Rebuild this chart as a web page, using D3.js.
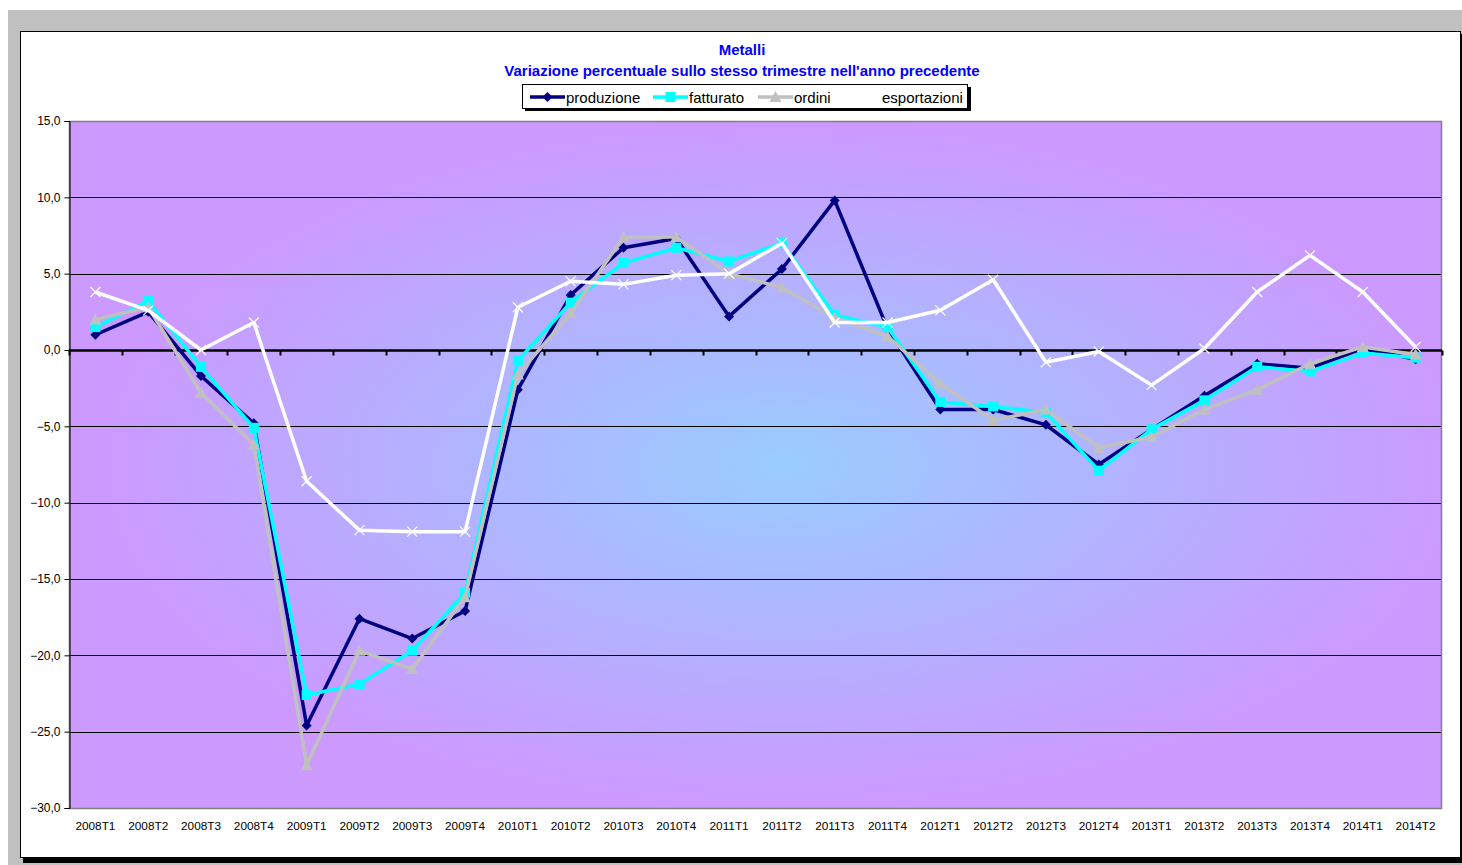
<!DOCTYPE html>
<html>
<head>
<meta charset="utf-8">
<script src="https://cdn.jsdelivr.net/npm/d3@7"></script>
<style>
  html, body { margin: 0; padding: 0; background: #ffffff; }
  svg { display: block; font-family: "Liberation Sans", Arial, sans-serif; }
</style>
</head>
<body>
<svg id="chart" width="1462" height="865"></svg>
<script>
const categories = ["2008T1","2008T2","2008T3","2008T4","2009T1","2009T2","2009T3","2009T4",
  "2010T1","2010T2","2010T3","2010T4","2011T1","2011T2","2011T3","2011T4",
  "2012T1","2012T2","2012T3","2012T4","2013T1","2013T2","2013T3","2013T4","2014T1","2014T2"];
const produzione = [1.0, 2.5, -1.7, -4.8, -24.6, -17.6, -18.9, -17.1,
  -2.6, 3.6, 6.7, 7.3, 2.2, 5.3, 9.8, 1.4,
  -3.9, -3.9, -4.9, -7.5, -5.2, -3.0, -0.9, -1.2, 0.1, -0.6];
const fatturato = [1.5, 3.2, -1.1, -5.1, -22.6, -21.9, -19.7, -15.9,
  -0.7, 3.1, 5.7, 6.7, 5.8, 7.0, 2.3, 1.5,
  -3.4, -3.7, -4.1, -7.9, -5.2, -3.3, -1.1, -1.4, -0.2, -0.5];
const ordini = [2.0, 2.8, -2.8, -6.2, -27.2, -19.7, -20.9, -16.2,
  -1.6, 2.4, 7.4, 7.4, 5.0, 4.1, 2.1, 0.9,
  -2.2, -4.6, -3.9, -6.4, -5.7, -3.9, -2.6, -0.9, 0.2, -0.3];
const esportazioni = [3.8, 2.6, 0.0, 1.8, -8.6, -11.8, -11.9, -11.9,
  2.8, 4.5, 4.3, 4.9, 5.0, 7.0, 1.8, 1.8,
  2.6, 4.6, -0.8, -0.1, -2.3, 0.1, 3.8, 6.2, 3.8, 0.2];
const yTicks = [15, 10, 5, 0, -5, -10, -15, -20, -25, -30];
const seriesNames = ["produzione", "fatturato", "ordini", "esportazioni"];
const titleLines = ["Metalli", "Variazione percentuale sullo stesso trimestre nell'anno precedente"];

const series = [
  {name: seriesNames[0], values: produzione, color: "#000080", marker: "diamond"},
  {name: seriesNames[1], values: fatturato, color: "#00FFFF", marker: "square"},
  {name: seriesNames[2], values: ordini, color: "#C0C0C0", marker: "triangle"},
  {name: seriesNames[3], values: esportazioni, color: "#FFFFFF", marker: "x"}
];

const svg = d3.select("#chart");
const W = 1462, H = 865;

// outer gray background
svg.append("rect").attr("x", 8).attr("y", 10).attr("width", W - 8).attr("height", H - 10).attr("fill", "#C0C0C0");
// chart area shadow + frame
svg.append("rect").attr("x", 23).attr("y", 34).attr("width", 1441).attr("height", 829).attr("fill", "#000");
svg.append("rect").attr("x", 20.5).attr("y", 31.5).attr("width", 1440).attr("height", 826)
  .attr("fill", "#fff").attr("stroke", "#000").attr("stroke-width", 1);

const plot = {left: 69, right: 1442, top: 121, bottom: 808};

const x = d3.scaleBand().domain(categories).range([plot.left, plot.right]).padding(0);
const y = d3.scaleLinear().domain([-30, 15]).range([plot.bottom, plot.top]);

// gradient
const defs = svg.append("defs");
const grad = defs.append("radialGradient").attr("id", "bg")
  .attr("cx", "0.52").attr("cy", "0.5").attr("r", "0.5").attr("fx", "0.52").attr("fy", "0.5");
grad.append("stop").attr("offset", "0%").attr("stop-color", "#99CCFF");
grad.append("stop").attr("offset", "100%").attr("stop-color", "#CC99FF");

svg.append("rect").attr("x", plot.left).attr("y", plot.top)
  .attr("width", plot.right - plot.left).attr("height", plot.bottom - plot.top)
  .attr("fill", "url(#bg)");

// gridlines
svg.append("g").selectAll("line").data(yTicks.filter(v => v !== 15 && v !== -30 && v !== 0)).join("line")
  .attr("x1", plot.left).attr("x2", plot.right)
  .attr("y1", d => Math.round(y(d)) + 0.5).attr("y2", d => Math.round(y(d)) + 0.5)
  .attr("stroke", "#000").attr("stroke-width", 1);

// plot border
svg.append("rect").attr("x", plot.left + 0.5).attr("y", plot.top + 0.5)
  .attr("width", plot.right - plot.left - 1).attr("height", plot.bottom - plot.top)
  .attr("fill", "none").attr("stroke", "#808080").attr("stroke-width", 1.5);

// Y axis
const yAxis = d3.axisLeft(y).tickValues(yTicks).tickSize(5).tickPadding(4)
  .tickFormat(d => d3.format(".1f")(d).replace(".", ","));
const gy = svg.append("g").attr("transform", `translate(${plot.left + 0.5},0)`).call(yAxis);
gy.select(".domain").attr("stroke", "#000");
gy.selectAll(".tick line").attr("stroke", "#000");
gy.selectAll("text").attr("font-size", 12).attr("fill", "#000")
  .attr("font-family", "'Liberation Sans', Arial, sans-serif");

// zero axis with ticks at category boundaries
const y0 = Math.round(y(0)) + 0.5;
svg.append("line").attr("x1", plot.left).attr("x2", plot.right).attr("y1", y0).attr("y2", y0)
  .attr("stroke", "#000").attr("stroke-width", 2.5);
const boundaries = categories.map(c => x(c)).concat([plot.right]);
svg.append("g").selectAll("line").data(boundaries).join("line")
  .attr("x1", d => Math.round(d) + 0.5).attr("x2", d => Math.round(d) + 0.5)
  .attr("y1", y0).attr("y2", y0 + 5).attr("stroke", "#000").attr("stroke-width", 2);

// X labels at bottom
const xAxis = d3.axisBottom(x).tickSize(0).tickPadding(14);
const gx = svg.append("g").attr("transform", `translate(0,${plot.bottom})`).call(xAxis);
gx.select(".domain").remove();
gx.selectAll("text").attr("font-size", 11.8).attr("fill", "#000")
  .attr("font-family", "'Liberation Sans', Arial, sans-serif");

// Lines
const cx = c => x(c) + x.bandwidth() / 2;
const line = d3.line().x((d, i) => cx(categories[i])).y(d => y(d));

function drawMarker(g, type, px, py, color) {
  if (type === "diamond") {
    g.append("path").attr("d", `M${px},${py-5}L${px+5},${py}L${px},${py+5}L${px-5},${py}Z`).attr("fill", color);
  } else if (type === "square") {
    g.append("rect").attr("x", px - 5).attr("y", py - 5).attr("width", 10).attr("height", 10).attr("fill", color);
  } else if (type === "triangle") {
    g.append("path").attr("d", `M${px},${py-6}L${px+6},${py+5}L${px-6},${py+5}Z`).attr("fill", color);
  } else if (type === "x") {
    g.append("path").attr("d", `M${px-5},${py-5}L${px+5},${py+5}M${px-5},${py+5}L${px+5},${py-5}`)
      .attr("stroke", color).attr("stroke-width", 1.2).attr("fill", "none");
  }
}

series.forEach(s => {
  const g = svg.append("g");
  g.append("path").datum(s.values).attr("d", line).attr("fill", "none")
    .attr("stroke", s.color).attr("stroke-width", 3.5).attr("stroke-linejoin", "round");
  s.values.forEach((v, i) => drawMarker(g, s.marker, cx(categories[i]), y(v), s.color));
});

// Title
svg.append("text").attr("x", 742).attr("y", 55).attr("text-anchor", "middle")
  .attr("font-size", 15).attr("font-weight", "bold").attr("fill", "#0000FF").text(titleLines[0]);
svg.append("text").attr("x", 742).attr("y", 76).attr("text-anchor", "middle")
  .attr("font-size", 15).attr("font-weight", "bold").attr("fill", "#0000FF").text(titleLines[1]);

// Legend
const lg = svg.append("g");
lg.append("rect").attr("x", 525).attr("y", 87).attr("width", 446).attr("height", 24).attr("fill", "#000");
lg.append("rect").attr("x", 522.5).attr("y", 84.5).attr("width", 445).attr("height", 24)
  .attr("fill", "#fff").attr("stroke", "#000").attr("stroke-width", 1);
const legendX = [530, 653, 758, 846];
series.forEach((s, i) => {
  const lx = legendX[i], ly = 97;
  lg.append("line").attr("x1", lx).attr("x2", lx + 35).attr("y1", ly).attr("y2", ly)
    .attr("stroke", s.color).attr("stroke-width", 3.5);
  drawMarker(lg, s.marker, lx + 17.5, ly, s.color);
  lg.append("text").attr("x", lx + 36).attr("y", ly + 5.5).attr("font-size", 15).attr("fill", "#000").text(s.name);
});
</script>
</body>
</html>
